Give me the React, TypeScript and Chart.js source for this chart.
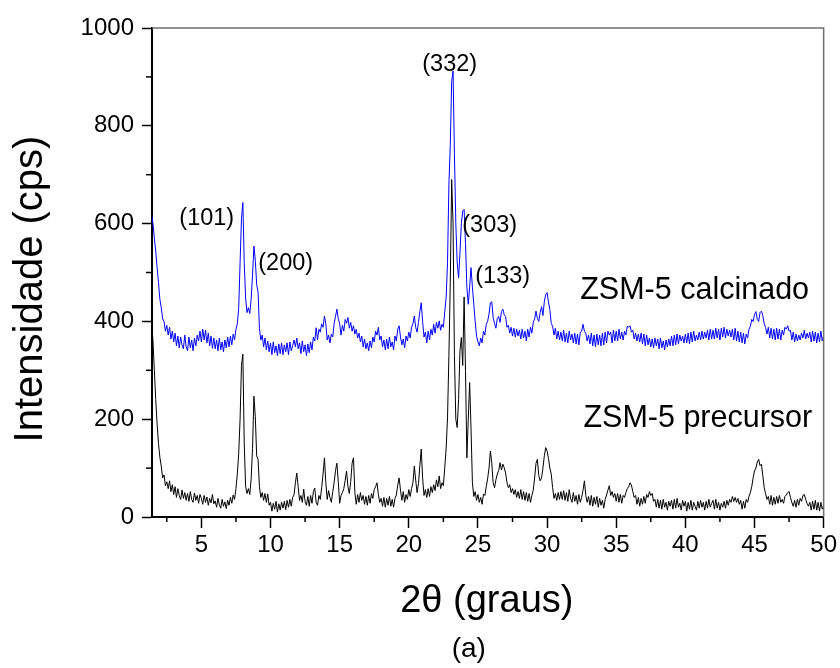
import { useEffect, useRef } from "react";
import { Chart, registerables } from "chart.js";

Chart.register(...registerables);

const FONT = "'Liberation Sans', Arial, Helvetica, sans-serif";

// 2θ grid of the scan: first angle and step (degrees)
const X_START = 1.4;
const X_STEP = 0.1;

// ZSM-5 precursor (cps), 1.4 .. 50.0 step 0.1
const precursor = [
  400, 360, 300, 240, 190, 150,
  122, 104, 80, 86, 64, 72, 58, 74, 52, 66,
  46, 62, 40, 58, 44, 36, 55, 38, 50, 34,
  48, 32, 52, 36, 30, 49, 34, 44, 28, 46,
  38, 26, 44, 30, 41, 24, 38, 29, 46, 27,
  33, 20, 38, 25, 18, 36, 22, 31, 17, 34,
  24, 40, 28, 45, 36, 58, 88, 130, 200, 310,
  333, 150, 62, 48, 58, 46, 78, 140, 247, 205,
  125, 118, 62, 40, 50, 34, 48, 30, 47, 24,
  30, 12, 28, 16, 32, 10, 27, 14, 30, 18,
  32, 15, 34, 20, 36, 22, 40, 45, 70, 90,
  62, 34, 44, 30, 57, 32, 24, 42, 22, 44,
  28, 52, 59, 30, 24, 44, 36, 60, 88, 121,
  70, 36, 54, 40, 30, 52, 70, 95, 110, 72,
  28, 44, 50, 58, 75, 94, 62, 48, 72, 110,
  121, 50, 26, 46, 30, 50, 34, 44, 26, 42,
  24, 44, 28, 48, 38, 56, 62, 70, 46, 30,
  38, 22, 40, 20, 38, 24, 42, 22, 36, 20,
  38, 45, 65, 80, 55, 34, 52, 30, 46, 36,
  56, 42, 58, 70, 104, 75, 50, 68, 105, 139,
  80, 44, 56, 40, 58, 42, 62, 50, 66, 54,
  76, 62, 84, 58, 70, 64, 101, 140, 203, 330,
  480, 690, 600, 330, 200, 183, 240, 340, 367, 310,
  450, 300, 121, 200, 275, 180, 70, 42, 52, 34,
  46, 30, 40, 26, 47, 44, 62, 78, 100, 135,
  110, 70, 60, 76, 88, 95, 111, 96, 108, 101,
  90, 70, 60, 66, 50, 58, 46, 56, 40, 52,
  38, 56, 36, 52, 34, 50, 32, 48, 30, 44,
  55, 80, 110, 118, 85, 74, 80, 100, 125, 142,
  135, 120, 100, 88, 60, 38, 48, 34, 50, 36,
  52, 36, 54, 34, 50, 32, 56, 38, 30, 50,
  32, 44, 26, 46, 30, 40, 55, 74, 44, 30,
  42, 24, 44, 22, 40, 26, 42, 20, 38, 24,
  34, 18, 36, 45, 55, 64, 44, 52, 40, 48,
  32, 48, 30, 46, 28, 44, 40, 50, 58, 62,
  70, 65, 52, 40, 44, 26, 40, 22, 38, 26,
  42, 28, 46, 40, 52, 44, 48, 32, 36, 20,
  36, 18, 34, 16, 36, 20, 30, 14, 32, 22,
  34, 16, 36, 18, 38, 20, 28, 14, 34, 22,
  32, 12, 30, 16, 34, 14, 30, 22, 14, 32,
  18, 34, 20, 30, 14, 32, 18, 36, 20, 28,
  34, 16, 36, 18, 30, 14, 28, 20, 32, 18,
  34, 24, 36, 30, 42, 32, 40, 30, 38, 26,
  34, 16, 32, 18, 36, 30, 42, 50, 62, 80,
  94, 100, 112, 118, 105, 108, 85, 60, 48, 36,
  42, 26, 44, 24, 40, 26, 42, 28, 44, 30,
  36, 28, 42, 45, 50, 52, 40, 30, 22, 34,
  20, 36, 24, 38, 32, 44, 46, 36, 28, 22,
  30, 14, 32, 16, 34, 14, 30, 12, 30, 16,
  24,
];

// ZSM-5 calcinado (cps), 1.4 .. 50.0 step 0.1
const calcinado = [
  620, 600, 570, 544, 510, 480,
  445, 428, 405, 400, 380, 392, 372, 388, 364, 380,
  358, 376, 350, 370, 346, 368, 352, 344, 372, 348,
  340, 368, 346, 362, 340, 366, 350, 372, 360, 380,
  358, 384, 362, 382, 356, 376, 350, 370, 345, 366,
  344, 362, 340, 366, 342, 358, 338, 362, 346, 368,
  348, 370, 352, 374, 362, 384, 395, 428, 520, 610,
  643, 520, 448, 418, 428, 416, 445, 495, 554, 525,
  475, 460, 385, 362, 372, 348, 366, 342, 360, 338,
  356, 332, 358, 336, 350, 330, 354, 334, 356, 332,
  352, 338, 356, 332, 358, 340, 350, 362, 348, 366,
  344, 356, 334, 360, 338, 352, 330, 354, 336, 358,
  342, 368, 360, 387, 362, 384, 378, 395, 388, 411,
  395, 362, 372, 356, 374, 368, 395, 410, 425, 406,
  395, 372, 392, 380, 404, 396, 408, 386, 398, 380,
  391, 374, 384, 366, 376, 358, 370, 348, 364, 344,
  356, 340, 360, 346, 368, 358, 380, 372, 388, 362,
  370, 348, 362, 342, 364, 344, 368, 348, 358, 342,
  370, 360, 384, 391, 368, 352, 364, 346, 370, 360,
  378, 366, 388, 395, 411, 388, 378, 398, 420, 438,
  400, 368, 378, 356, 380, 362, 384, 372, 394, 376,
  398, 386, 401, 382, 394, 388, 420, 448, 520, 680,
  760, 890, 912, 742, 600, 520, 489, 540, 600, 626,
  629, 560, 470, 435, 470, 510, 470, 435, 400, 370,
  358, 350, 366, 356, 380, 372, 394, 400, 415, 438,
  440, 408, 396, 386, 406, 410, 398, 420, 425, 414,
  410, 388, 392, 376, 388, 370, 386, 368, 384, 370,
  382, 364, 384, 366, 380, 360, 384, 368, 388, 376,
  398, 405, 421, 406, 400, 418, 430, 412, 440, 455,
  459, 440, 424, 396, 390, 372, 386, 364, 380, 362,
  378, 360, 382, 358, 376, 356, 380, 362, 374, 356,
  376, 354, 374, 352, 378, 380, 394, 380, 376, 360,
  372, 354, 376, 350, 372, 348, 374, 352, 372, 350,
  376, 352, 378, 356, 380, 372, 378, 356, 382, 360,
  380, 360, 384, 364, 378, 362, 380, 372, 390, 388,
  391, 378, 382, 364, 376, 360, 374, 358, 376, 354,
  374, 350, 372, 352, 366, 348, 364, 346, 366, 350,
  364, 344, 366, 346, 360, 342, 362, 348, 364, 350,
  370, 350, 372, 352, 374, 354, 372, 360, 370, 356,
  374, 356, 376, 354, 378, 358, 380, 360, 372, 362,
  378, 362, 380, 364, 378, 366, 382, 362, 384, 364,
  382, 364, 386, 366, 384, 362, 386, 368, 388, 366,
  384, 370, 382, 368, 384, 362, 386, 360, 380, 358,
  378, 356, 376, 354, 374, 366, 384, 390, 404, 400,
  414, 420, 404, 400, 418, 421, 412, 395, 388, 374,
  388, 366, 386, 364, 384, 362, 386, 364, 384, 362,
  382, 372, 388, 384, 391, 380, 382, 362, 378, 358,
  374, 360, 372, 362, 376, 366, 382, 364, 376, 366,
  378, 358, 380, 360, 378, 356, 376, 358, 380, 360,
  372,
];

const X_TICKS = [5, 10, 15, 20, 25, 30, 35, 40, 45, 50];
const X_MINOR = [2.5, 7.5, 12.5, 17.5, 22.5, 27.5, 32.5, 37.5, 42.5, 47.5];
const Y_TICKS = [0, 200, 400, 600, 800, 1000];
const Y_MINOR = [100, 300, 500, 700, 900];

const peakLabels = ["(101)", "(200)", "(332)", "(303)", "(133)"];
const peakLabelX = [5.39, 11.1, 22.96, 25.85, 26.79];
const peakLabelY = [615, 523, 930, 600, 496];

const seriesNames = ["ZSM-5 calcinado", "ZSM-5 precursor"];
const seriesLabelX = [40.67, 40.9];
const seriesLabelY = [469, 206];

const X_TITLE = "2θ (graus)";
const Y_TITLE = "Intensidade (cps)";
const PANEL = "(a)";

const toXY = (arr: number[]) =>
  arr.map((y, i) => ({ x: +(X_START + i * X_STEP).toFixed(2), y }));

const decorPlugin = {
  id: "decor",
  afterDatasetsDraw(chart: any) {
    const { ctx, chartArea: a, scales } = chart;
    const xs = scales.x;
    const ys = scales.y;
    ctx.save();
    // top / right frame
    ctx.strokeStyle = "#707070";
    ctx.lineWidth = 1.5;
    ctx.beginPath();
    ctx.moveTo(a.left, a.top);
    ctx.lineTo(a.right, a.top);
    ctx.lineTo(a.right, a.bottom);
    ctx.stroke();
    // minor ticks
    ctx.strokeStyle = "#000";
    ctx.lineWidth = 1.5;
    X_MINOR.forEach((v) => {
      const px = xs.getPixelForValue(v);
      ctx.beginPath();
      ctx.moveTo(px, a.bottom);
      ctx.lineTo(px, a.bottom + 5);
      ctx.stroke();
    });
    Y_MINOR.forEach((v) => {
      const py = ys.getPixelForValue(v);
      ctx.beginPath();
      ctx.moveTo(a.left, py);
      ctx.lineTo(a.left - 6, py);
      ctx.stroke();
    });
    // peak labels
    ctx.fillStyle = "#000";
    ctx.textAlign = "center";
    ctx.textBaseline = "alphabetic";
    let fs = 23.5;
    ctx.font = `${fs}px ${FONT}`;
    peakLabels.forEach((t, i) => {
      ctx.fillText(
        t,
        xs.getPixelForValue(peakLabelX[i]),
        ys.getPixelForValue(peakLabelY[i]) + 0.358 * fs
      );
    });
    fs = 30.5;
    ctx.font = `${fs}px ${FONT}`;
    seriesNames.forEach((t, i) => {
      ctx.fillText(
        t,
        xs.getPixelForValue(seriesLabelX[i]),
        ys.getPixelForValue(seriesLabelY[i]) + 0.358 * fs
      );
    });
    // axis titles
    const cx = (a.left + a.right) / 2;
    ctx.font = `38px ${FONT}`;
    ctx.fillText(X_TITLE, cx - 1, a.bottom + 95);
    ctx.font = `28px ${FONT}`;
    ctx.fillText(PANEL, cx - 19, a.bottom + 140);
    ctx.save();
    ctx.translate(42, 289);
    ctx.rotate(-Math.PI / 2);
    ctx.font = `40px ${FONT}`;
    ctx.fillText(Y_TITLE, 0, 0);
    ctx.restore();
    ctx.restore();
  },
};

export default function App() {
  const ref = useRef<HTMLCanvasElement | null>(null);
  useEffect(() => {
    document.body.style.margin = "0";
    if (!ref.current) return;
    const chart = new Chart(ref.current, {
      type: "line",
      data: {
        datasets: [
          {
            label: seriesNames[0],
            data: toXY(calcinado),
            borderColor: "#0000ff",
            borderWidth: 1,
            pointRadius: 0,
            tension: 0,
          },
          {
            label: seriesNames[1],
            data: toXY(precursor),
            borderColor: "#000000",
            borderWidth: 1,
            pointRadius: 0,
            tension: 0,
          },
        ],
      },
      options: {
        responsive: false,
        animation: false,
        events: [],
        layout: { padding: { top: 28, right: 16, left: 0, bottom: 0 } },
        plugins: {
          legend: { display: false },
          tooltip: { enabled: false },
          title: { display: false },
        },
        scales: {
          x: {
            type: "linear",
            min: 1.43,
            max: 50,
            afterBuildTicks: (s: any) => {
              s.ticks = X_TICKS.map((v) => ({ value: v }));
            },
            afterFit: (s: any) => {
              s.height = 151;
            },
            grid: {
              drawOnChartArea: false,
              drawTicks: true,
              tickLength: 11,
              tickWidth: 1.5,
              tickColor: "#000",
            },
            border: { display: true, color: "#000", width: 2 },
            ticks: {
              color: "#000",
              font: { family: FONT, size: 24 },
              padding: 3,
              maxRotation: 0,
              autoSkip: false,
              callback: (v: any) => String(v),
            },
          },
          y: {
            type: "linear",
            min: 0,
            max: 1000,
            afterBuildTicks: (s: any) => {
              s.ticks = Y_TICKS.map((v) => ({ value: v }));
            },
            afterFit: (s: any) => {
              s.width = 152;
            },
            grid: {
              drawOnChartArea: false,
              drawTicks: true,
              tickLength: 10,
              tickWidth: 1.5,
              tickColor: "#000",
            },
            border: { display: true, color: "#000", width: 2 },
            ticks: {
              color: "#000",
              font: { family: FONT, size: 24 },
              padding: 8,
              autoSkip: false,
              callback: (v: any) => String(v),
            },
          },
        },
      },
      plugins: [decorPlugin],
    });
    return () => chart.destroy();
  }, []);
  return (
    <canvas
      ref={ref}
      width={840}
      height={668}
      style={{ display: "block", width: 840, height: 668 }}
    />
  );
}
